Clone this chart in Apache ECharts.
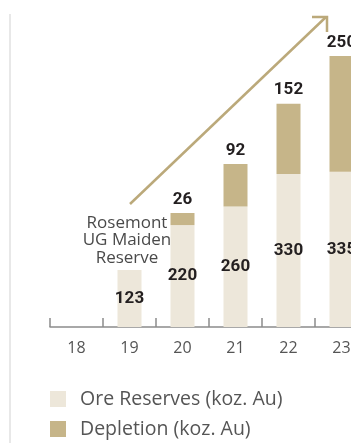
<!DOCTYPE html>
<html>
<head>
<meta charset="utf-8">
<script src="https://cdn.jsdelivr.net/npm/echarts@6/dist/echarts.min.js"></script>
<style>
    html, body { margin: 0; padding: 0; background: #fff; }
</style>
</head>
<body>

<div id="main" style="width: 351px;height:443px;"></div>

<script type="text/javascript">
    // 年份 (FY)
    var years = ['18', '19', '20', '21', '22', '23'];
    // 储量与消耗 (koz. Au)
    var oreReserves = [null, 123, 220, 260, 330, 335];
    var depletion = [null, null, 26, 92, 152, 250];

    var boldFont = 'Roboto';
    var textFont = 'Open Sans';

    var myChart = echarts.init(document.getElementById('main'));

    var option = {
        animation: false,
        textStyle: { fontFamily: textFont },
        grid: {
            left: 50,
            right: -17,
            top: 49,
            bottom: 116,
            containLabel: false,
            outerBoundsMode: 'none'
        },
        legend: {
            orient: 'vertical',
            left: 50,
            top: 389,
            height: 80,
            padding: 0,
            icon: 'rect',
            itemWidth: 16,
            itemHeight: 16,
            itemGap: 10,
            textStyle: { fontSize: 19.5, color: '#555', fontFamily: textFont, padding: [0, 0, 0, 9] },
            data: ['Ore Reserves (koz. Au)', 'Depletion (koz. Au)']
        },
        xAxis: {
            type: 'category',
            data: years,
            offset: 5,
            axisLine: { show: true, lineStyle: { color: '#8c8c8c', width: 1.5 } },
            axisTick: { show: true, inside: true, length: 9, interval: 0, lineStyle: { color: '#8c8c8c', width: 1.5 } },
            axisLabel: { fontSize: 16, color: '#555', margin: 8, fontFamily: textFont }
        },
        yAxis: {
            type: 'value',
            min: 0,
            max: 600,
            show: false
        },
        series: [{
            name: 'Ore Reserves (koz. Au)',
            type: 'bar',
            stack: 'total',
            barWidth: 24,
            itemStyle: { color: '#ede7da' },
            label: {
                show: true,
                position: 'inside',
                fontSize: 17,
                fontWeight: 'bold',
                fontFamily: boldFont,
                color: '#231f20'
            },
            data: oreReserves
        }, {
            name: 'Depletion (koz. Au)',
            type: 'bar',
            stack: 'total',
            barWidth: 24,
            itemStyle: { color: '#c6b589' },
            label: {
                show: true,
                position: 'top',
                distance: 5,
                fontSize: 17,
                fontWeight: 'bold',
                fontFamily: boldFont,
                color: '#231f20'
            },
            data: depletion
        }],
        graphic: [
            // 左侧竖线
            { type: 'rect', shape: { x: 9, y: 14, width: 2, height: 429 }, style: { fill: '#e8e8e8' } },
            // 箭头
            { type: 'line', shape: { x1: 130, y1: 204, x2: 326, y2: 17 }, style: { stroke: '#bba97a', lineWidth: 2.5 } },
            { type: 'polyline', shape: { points: [[312, 17], [327, 17], [327, 32]] }, style: { stroke: '#bba97a', lineWidth: 2.5, fill: null } },
            // 注释
            {
                type: 'text',
                x: 127,
                y: 214,
                style: {
                    text: 'Rosemont\nUG Maiden\nReserve',
                    align: 'center',
                    fontSize: 17,
                    lineHeight: 17.5,
                    fontFamily: textFont,
                    fill: '#4a4a4a'
                }
            }
        ]
    };

    myChart.setOption(option);
</script>

</body>
</html>
